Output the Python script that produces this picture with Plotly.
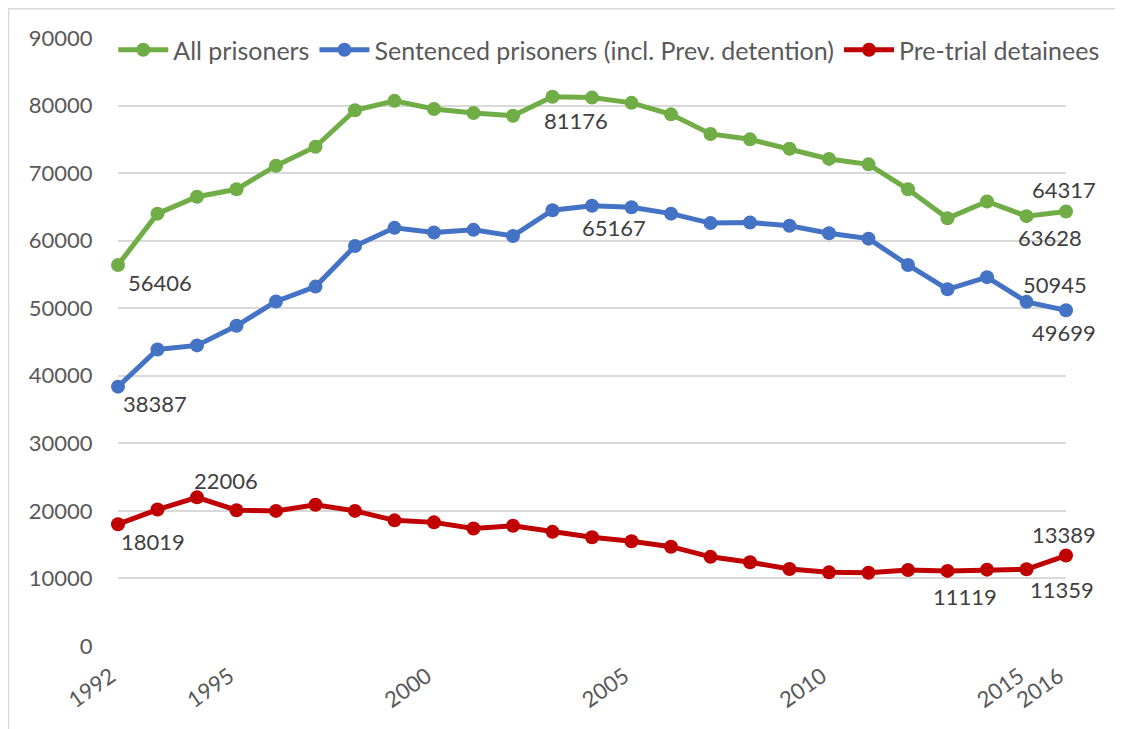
import plotly.graph_objects as go

years = list(range(1992, 2017))

all_prisoners = [56406, 64000, 66500, 67600, 71100, 73900, 79300, 80700, 79500, 78900,
                 78500, 81300, 81176, 80400, 78700, 75800, 75000, 73600, 72100, 71300,
                 67600, 63300, 65800, 63628, 64317]
sentenced = [38387, 43900, 44500, 47400, 51000, 53200, 59200, 61900, 61200, 61600,
             60700, 64500, 65167, 64950, 64000, 62600, 62700, 62200, 61100, 60300,
             56400, 52800, 54600, 50945, 49699]
pretrial = [18019, 20200, 22006, 20100, 20000, 20900, 20000, 18600, 18300, 17400,
            17800, 16900, 16100, 15500, 14700, 13200, 12400, 11400, 10900, 10850,
            11250, 11119, 11300, 11359, 13389]

series_names = ["All prisoners", "Sentenced prisoners (incl. Prev. detention)", "Pre-trial detainees"]
series_colors = ["#70AD47", "#4472C4", "#C00000"]

tick_years = [1992, 1995, 2000, 2005, 2010, 2015, 2016]
y_ticks = list(range(0, 90001, 10000))

# labelled points: (series index, year, xshift, yshift)
labelled = [
    (0, 1992, 42, -18), (0, 2004, -16, -23), (0, 2015, 23, -21), (0, 2016, -2, 22),
    (1, 1992, 37, -17), (1, 2004, 22, -22), (1, 2015, 28, 17), (1, 2016, -2, -22),
    (2, 1992, 35, -17), (2, 1994, 29, 17), (2, 2013, 17, -26), (2, 2015, 35, -20), (2, 2016, -2, 21),
]

FONT = "Lato, Carlito, Calibri, sans-serif"
data = [all_prisoners, sentenced, pretrial]

fig = go.Figure()
for name, vals, col in zip(series_names, data, series_colors):
    fig.add_trace(go.Scatter(
        x=years, y=vals, name=name, mode="lines+markers",
        line=dict(color=col, width=5),
        marker=dict(color=col, size=14),
        cliponaxis=False,
    ))

for si, yr, dx, dy in labelled:
    v = data[si][years.index(yr)]
    fig.add_annotation(x=yr, y=v, text=str(v), showarrow=False,
                       xshift=dx, yshift=dy,
                       font=dict(family=FONT, size=22, color="#404040"))

fig.update_layout(
    width=1115, height=721,
    margin=dict(l=110, r=57, t=30, b=83),
    paper_bgcolor="white", plot_bgcolor="white",
    font=dict(family=FONT, size=22, color="#595959"),
    showlegend=True,
    legend=dict(orientation="h", x=-0.005, y=1.018, xanchor="left", yanchor="top",
                bgcolor="white", font=dict(family=FONT, size=25, color="#595959"),
                itemwidth=50, tracegroupgap=0),
    xaxis=dict(range=[1992, 2016], tickmode="array", tickvals=tick_years,
               ticktext=[str(t) for t in tick_years], tickangle=-35,
               showgrid=False, zeroline=False, showline=False,
               ticks="outside", ticklen=8, tickcolor="rgba(0,0,0,0)",
               ticklabelshift=-7,
               tickfont=dict(family=FONT, size=22, color="#595959")),
    yaxis=dict(range=[0, 90000], tickmode="array", tickvals=y_ticks,
               ticktext=[str(t) for t in y_ticks],
               showgrid=True, gridcolor="#D9D9D9", gridwidth=1.5,
               zeroline=False, showline=False,
               ticks="outside", ticklen=20, tickcolor="rgba(0,0,0,0)",
               tickfont=dict(family=FONT, size=22, color="#595959")),
    shapes=[dict(type="rect", xref="paper", yref="paper",
                 x0=-0.1155, x1=1.0527, y0=-0.2, y1=1.048,
                 line=dict(color="#D9D9D9", width=1.5), fillcolor="rgba(0,0,0,0)",
                 layer="below")],
)

fig.write_html("out.html")
